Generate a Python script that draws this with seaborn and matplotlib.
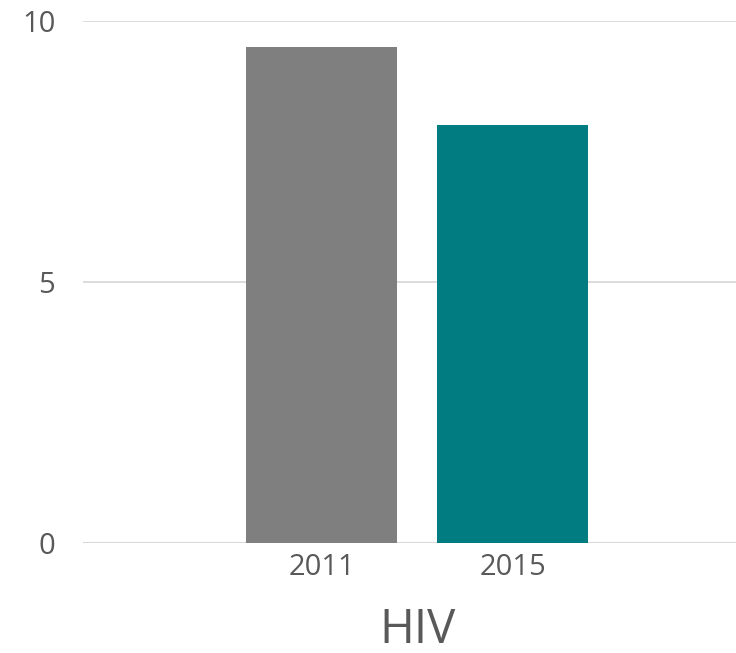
import matplotlib
matplotlib.use("Agg")
import matplotlib.pyplot as plt
import seaborn as sns
import pandas as pd

# values
years = ["2011", "2015"]
values = [9.5, 8.0]
colors = ["#7f7f7f", "#017c80"]
category = "HIV"
y_ticks = [0, 5, 10]

df = pd.DataFrame({"Year": years, "Value": values})

sns.set_theme(style="white")
plt.rcParams["font.family"] = ["Open Sans", "DejaVu Sans"]

fig = plt.figure(figsize=(7.36, 6.53), dpi=100)
ax = fig.add_axes([0.1128, 0.1685, 0.8872, 0.7993])

sns.barplot(
    data=df, x="Year", y="Value", hue="Year", palette=colors,
    width=0.79, saturation=1, legend=False, linewidth=0, ax=ax,
)

ax.set_ylim(0, 10)
ax.set_xlim(-1.249, 2.17)
ax.set_yticks(y_ticks)
ax.yaxis.grid(True, color="#d9d9d9", linewidth=1.3)
ax.set_axisbelow(True)
for side in ["top", "right", "left", "bottom"]:
    ax.spines[side].set_visible(False)
ax.axhline(0, color="#d9d9d9", linewidth=1.5, zorder=0)

ax.tick_params(axis="x", length=0, labelcolor="#595959", labelsize=21, pad=7)
ax.tick_params(axis="y", length=0, labelcolor="#595959", labelsize=21, pad=20)
ax.set_xlabel("")
ax.set_ylabel("")

# category label under the group of bars
ax.text(0.5, -0.168, category, transform=ax.get_xaxis_transform(),
        ha="center", va="center", fontsize=34, color="#595959")

fig.savefig("out.png", dpi=100)
